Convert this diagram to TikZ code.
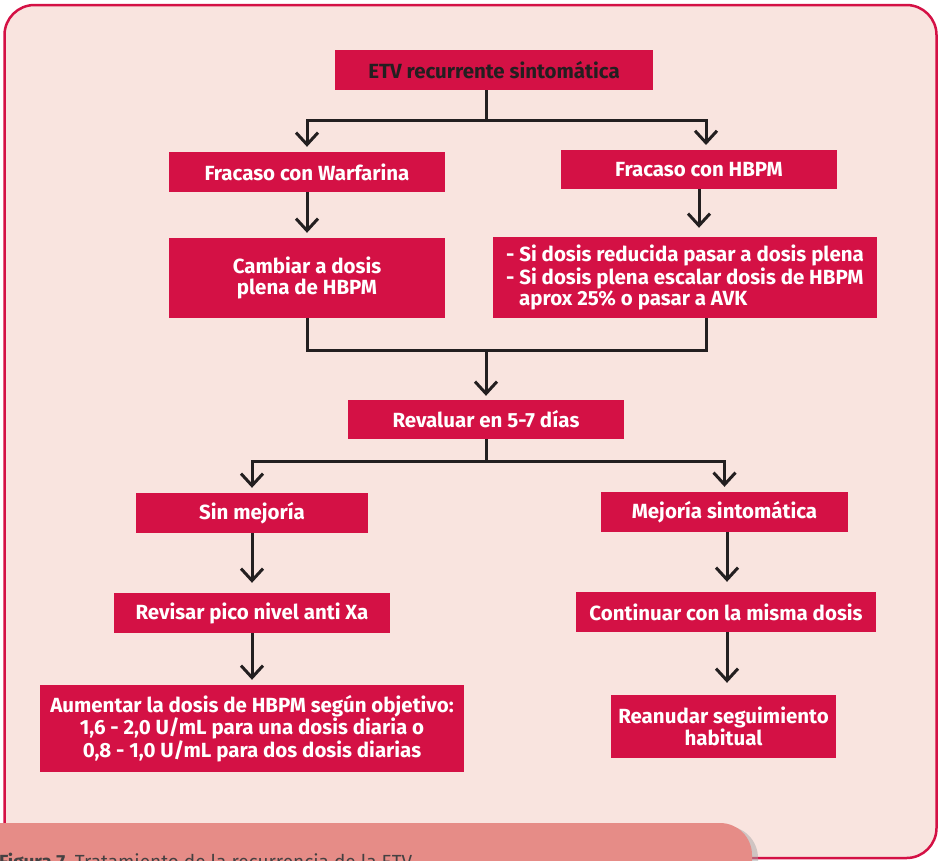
\documentclass[tikz,border=0pt]{standalone}
\usepackage{fontspec}
\setmainfont{Fira Sans}
\usepackage{xcolor}
\usetikzlibrary{arrows.meta}
\definecolor{crimson}{HTML}{D41145}
\definecolor{panel}{HTML}{F9E4DF}
\definecolor{capfill}{HTML}{E68C87}
\definecolor{ink}{HTML}{231F20}

\begin{document}
\begin{tikzpicture}[x=1pt,y=-1pt,
  box/.style={fill=crimson, text=white, inner sep=0pt, align=center,
    font=\bfseries\fontsize{20.5}{21}\selectfont},
  link/.style={draw=ink, line width=3pt},
  arr/.style={link, -{Straight Barb[length=12pt,width=22pt]}, shorten >=5pt}]
\clip (0,0) rectangle (939,860);
% panel and caption strip
\draw[fill=panel, draw=crimson, line width=2.5pt, rounded corners=30pt] (4.5,5) rectangle (936.5,858);
\fill[black!35, opacity=0.5, rounded corners=32pt] (-40,826) rectangle (758,900);
\fill[capfill, rounded corners=32pt] (-40,823) rectangle (752,900);
\node[anchor=base west, inner sep=0pt, text=ink!85, font=\fontsize{19}{20}\selectfont] (cap) at (-1,868)
  {\textbf{Figura 7.} Tratamiento de la recurrencia de la ETV};

% boxes
\node[box, text=ink, minimum width=318pt, minimum height=40pt] (etv) at (494,70) {ETV recurrente sintomática};
\node[box, minimum width=276pt, minimum height=40pt] (warf) at (307,172) {Fracaso con Warfarina};
\node[box, minimum width=276pt, minimum height=39pt] (hbpm) at (699,169.5) {Fracaso con HBPM};
\node[box, minimum width=276pt, minimum height=80pt] (cambiar) at (307,278) {Cambiar a dosis\\plena de HBPM};
\node[box, align=left, minimum width=384pt, minimum height=81pt] (escalar) at (685,277.5)
  {- Si dosis reducida pasar a dosis plena\\- Si dosis plena escalar dosis de HBPM\\\hspace{13pt}aprox 25\% o pasar a AVK};
\node[box, minimum width=276pt, minimum height=39pt] (reval) at (486,419.5) {Revaluar en 5-7 días};
\node[box, minimum width=232pt, minimum height=40pt] (sinmej) at (252,513) {Sin mejoría};
\node[box, minimum width=247pt, minimum height=40pt] (mejor) at (724.5,512) {Mejoría sintomática};
\node[box, minimum width=276pt, minimum height=40pt] (revisar) at (252,613) {Revisar pico nivel anti Xa};
\node[box, minimum width=300pt, minimum height=40pt] (continuar) at (726,612) {Continuar con la misma dosis};
\node[box, minimum width=424pt, minimum height=87pt] (aumentar) at (252,728.5)
  {Aumentar la dosis de HBPM según objetivo:\\1,6 - 2,0 U/mL para una dosis diaria o\\0,8 - 1,0 U/mL para dos dosis diarias};
\node[box, minimum width=225pt, minimum height=63pt] (reanudar) at (723.5,726.5) {Reanudar seguimiento\\habitual};

% connectors
\coordinate (t1) at (486,120);
\coordinate (m2) at (706,350);
\coordinate (t3) at (486,461);
\draw[link] (etv.south -| t1) -- (t1);
\draw[arr] (t1) -| (warf.north);
\draw[arr] (t1) -| (706,150);
\draw[arr] (warf.south) -- (cambiar.north);
\draw[arr, shorten >=9pt] (hbpm.south) -- (hbpm.south |- escalar.north);
\draw[link] (cambiar.south) |- (m2) -- (m2 |- escalar.south);
\draw[arr, shorten >=4pt] (m2 -| reval.north) -- (reval.north);
\draw[link] (reval.south) -- (t3);
\draw[arr] (t3) -| (sinmej.north);
\draw[arr] (t3) -| (mejor.north);
\draw[arr, shorten >=10pt] (sinmej.south) -- (revisar.north);
\draw[arr] (revisar.south) -- (aumentar.north);
\draw[arr, shorten >=10pt] (mejor.south -| 727,0) -- (continuar.north -| 727,0);
\draw[arr, shorten >=12pt] (continuar.south -| 727,0) -- (reanudar.north -| 727,0);
\end{tikzpicture}
\end{document}
